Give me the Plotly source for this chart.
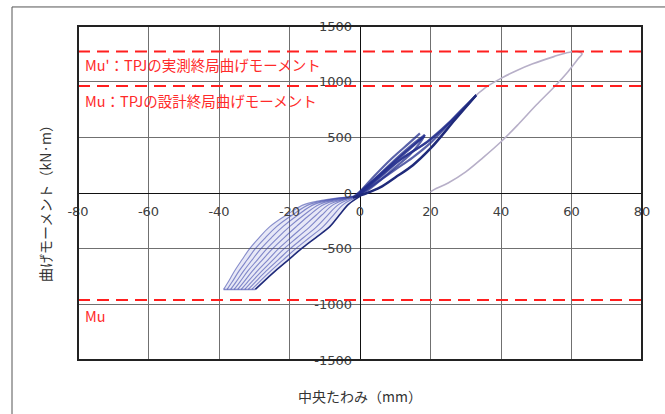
import plotly.graph_objects as go

# ---------------- data ----------------
x_ticks = [-80, -60, -40, -20, 0, 20, 40, 60, 80]
y_ticks = [-1500, -1000, -500, 0, 500, 1000, 1500]

mu_lines = [1270, 960, -960]
mu_labels = ["Mu'：TPJの実測終局曲げモーメント", "Mu：TPJの設計終局曲げモーメント", "Mu"]
mu_label_y = [1150, 835, -1098]

# final (large) cycle - light grey-purple loop
gray_x = [33, 36, 40, 44.5, 49, 55, 58.5, 61.8, 63.0, 62.0, 59, 55, 50, 45, 40, 35, 30, 25, 21, 20]
gray_y = [880, 955, 1030, 1100, 1160, 1225, 1258, 1270, 1250, 1210, 1090, 950, 790, 620, 460, 320, 190, 90, 30, 10]

# positive-side cycles (dark blue)
pos_x = [
    [0, 5, 11, 15, 18.4],
    [-1, 5, 11, 15, 18.3],
    [-2, 4, 10, 14, 17.8],
    [0, 4, 9, 14, 17.0],
    [18.4, 17, 14, 10, 6, 3, 0],
    [0, 6, 12, 20, 26, 30, 33],
    [-1, 5, 11, 19, 25, 29, 32.6],
    [33, 27, 20, 15, 10, 5, 0],
]
pos_y = [
    [0, 150, 330, 440, 522],
    [-20, 140, 310, 420, 510],
    [-40, 120, 290, 400, 500],
    [10, 150, 310, 450, 535],
    [522, 450, 340, 230, 120, 45, -20],
    [-10, 150, 310, 480, 650, 775, 880],
    [-30, 130, 290, 460, 625, 755, 865],
    [880, 680, 450, 320, 210, 100, -10],
]

# lower (dark) unloading line of the big positive cycle
low_x = [33, 27, 20, 15, 10, 5.7, 2, -2]
low_y = [880, 660, 400, 250, 140, 50, 0, -40]

# negative-side cycles (fan of lines): x at each moment level
neg_levels = [-30, -100, -200, -300, -400, -500, -600, -700, -800, -866]
neg_x = [
    [-2.0, -15.5, -21.0, -25.5, -28.6, -31.3, -33.5, -35.6, -37.4, -38.7],
    [-1.8, -14.1, -19.3, -23.6, -26.8, -29.7, -32.0, -34.3, -36.3, -37.7],
    [-1.6, -12.8, -17.7, -21.8, -25.1, -28.1, -30.6, -33.0, -35.2, -36.7],
    [-1.3, -11.4, -16.0, -19.9, -23.3, -26.4, -29.1, -31.8, -34.1, -35.7],
    [-1.1, -10.1, -14.4, -18.0, -21.5, -24.8, -27.7, -30.5, -33.0, -34.7],
    [-0.9, -8.6, -12.5, -16.0, -19.6, -23.1, -26.1, -29.1, -31.9, -33.7],
    [-0.7, -7.3, -10.9, -14.1, -17.8, -21.5, -24.7, -27.8, -30.8, -32.7],
    [-0.4, -5.9, -9.2, -12.2, -16.0, -19.8, -23.2, -26.6, -29.7, -31.7],
    [-0.2, -4.6, -7.6, -10.4, -14.3, -18.2, -21.8, -25.3, -28.6, -30.7],
    [0.0, -3.2, -5.9, -8.5, -12.5, -16.6, -20.3, -24.0, -27.5, -29.7],
]
neg_bottom_x = [-38.7, -29.7]
neg_bottom_y = [-866, -866]

# ---------------- figure ----------------
fig = go.Figure()

NAVY = "#1f2a7a"
FAN = "rgba(60,70,170,0.6)"

# faint haze behind the fan
haze_x = neg_x[0] + neg_x[-1][::-1]
haze_y = neg_levels + neg_levels[::-1]
fig.add_trace(go.Scatter(x=haze_x, y=haze_y, mode="lines", fill="toself",
                         fillcolor="rgba(120,130,210,0.18)", line=dict(width=0),
                         hoverinfo="skip", showlegend=False))

for i, xs in enumerate(neg_x):
    col = NAVY if i == len(neg_x) - 1 else FAN
    w = 1.6 if i == len(neg_x) - 1 else 1.1
    fig.add_trace(go.Scatter(x=xs, y=neg_levels, mode="lines", line=dict(color=col, width=w, shape="spline"),
                             hoverinfo="skip", showlegend=False))
fig.add_trace(go.Scatter(x=neg_bottom_x, y=neg_bottom_y, mode="lines",
                         line=dict(color=FAN, width=1.5), showlegend=False))

for xs, ys in zip(pos_x, pos_y):
    fig.add_trace(go.Scatter(x=xs, y=ys, mode="lines", line=dict(color="rgba(35,45,140,0.75)", width=2.2, shape="spline"),
                             showlegend=False))
fig.add_trace(go.Scatter(x=low_x, y=low_y, mode="lines",
                         line=dict(color=NAVY, width=2.5, shape="spline"), showlegend=False))

fig.add_trace(go.Scatter(x=gray_x, y=gray_y, mode="lines",
                         line=dict(color="#b7afc8", width=1.6, shape="spline"), showlegend=False))

# dashed Mu lines
for v in mu_lines:
    fig.add_shape(type="line", xref="paper", x0=0, x1=1, yref="y", y0=v, y1=v,
                  line=dict(color="#ff1f1f", width=2, dash="12px,7px"), layer="above")

for t, yv in zip(mu_labels, mu_label_y):
    fig.add_annotation(x=-78.5, y=yv, xref="x", yref="y", text=t, showarrow=False,
                       xanchor="left", yanchor="middle",
                       font=dict(family="Noto Sans CJK JP", size=14.5, color="#ff2a2a"))

# plot frame
fig.add_shape(type="rect", xref="paper", yref="paper", x0=0, x1=1, y0=0, y1=1,
              line=dict(color="#222222", width=2), layer="above")
# outer page frame
fig.add_shape(type="line", xref="paper", yref="paper", x0=-0.117, x1=1.2, y0=1.057, y1=1.057,
              line=dict(color="#555555", width=1))
fig.add_shape(type="line", xref="paper", yref="paper", x0=-0.117, x1=-0.117, y0=1.057, y1=-0.3,
              line=dict(color="#555555", width=1))

# axis titles
fig.add_annotation(x=0.5, y=-0.108, xref="paper", yref="paper", text="中央たわみ（mm）", showarrow=False,
                   xanchor="center", yanchor="middle",
                   font=dict(family="Noto Sans CJK JP", size=14, color="#333333"))
fig.add_annotation(x=-0.0585, y=0.479, xref="paper", yref="paper", text="曲げモーメント（kN·m）", showarrow=False,
                   textangle=-90, xanchor="center", yanchor="middle",
                   font=dict(family="Noto Sans CJK JP", size=14, color="#333333"))

tickfont = dict(family="DejaVu Sans", size=13, color="#404040")
fig.update_layout(
    width=665, height=414,
    margin=dict(l=78, r=23, t=26, b=54),
    paper_bgcolor="white", plot_bgcolor="white",
    xaxis=dict(range=[-80, 80], tickvals=x_ticks, ticktext=[str(v) for v in x_ticks],
               showgrid=True, gridcolor="#707070", gridwidth=1,
               zeroline=True, zerolinecolor="#111111", zerolinewidth=1.2,
               anchor="free", position=0.5, ticks="", showline=False,
               tickfont=tickfont, ticklabelstandoff=9),
    yaxis=dict(range=[-1500, 1500], tickvals=y_ticks, ticktext=[str(v) for v in y_ticks],
               showgrid=True, gridcolor="#707070", gridwidth=1,
               zeroline=True, zerolinecolor="#111111", zerolinewidth=1.2,
               anchor="free", position=0.5, ticks="", showline=False,
               tickfont=tickfont, ticklabelstandoff=8),
    showlegend=False,
)

fig.write_html("out.html", config={"displayModeBar": False},
               post_script="document.body.style.margin='0';document.body.style.overflow='hidden';")
